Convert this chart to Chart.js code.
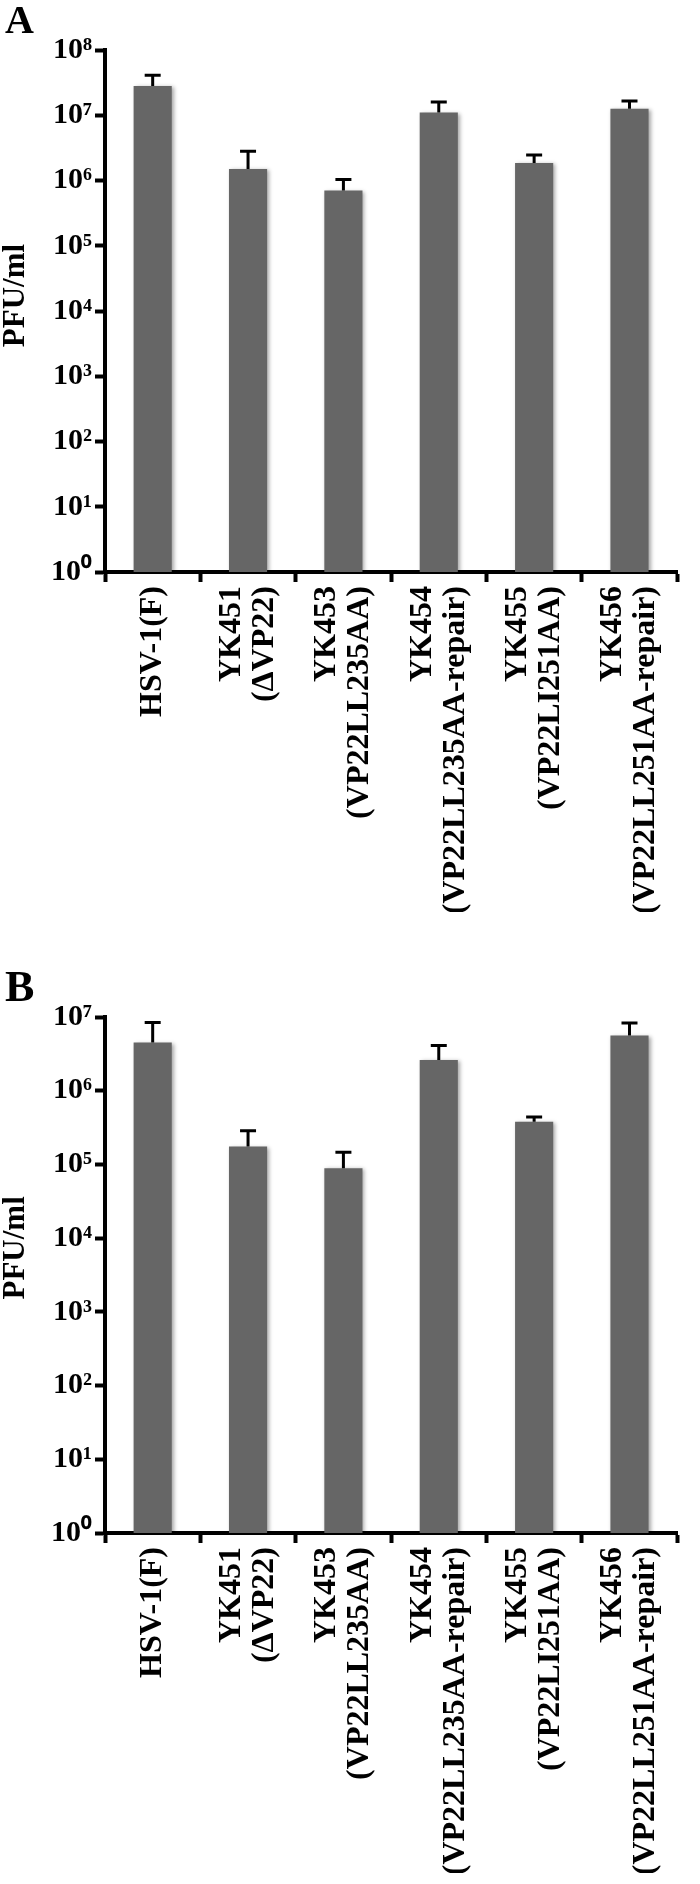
<!DOCTYPE html>
<html>
<head>
<meta charset="utf-8">
<script src="https://cdn.jsdelivr.net/npm/chart.js@4.4.0/dist/chart.umd.min.js"></script>
<style>
  html, body { margin: 0; padding: 0; background: #fff; }
  #wrap { position: relative; width: 700px; height: 1884px; }
  canvas { position: absolute; left: 0; }
  #cA { top: 0; }
  #cB { top: 940px; }
  .panel { position: absolute; font-family: 'Liberation Serif', 'Times New Roman', serif; font-weight: bold; line-height: 1; color: #000; }
</style>
</head>
<body>
<div id="wrap">
  <canvas id="cA" width="700" height="935"></canvas>
  <canvas id="cB" width="700" height="944"></canvas>
  <div class="panel" style="left:5px;top:0;font-size:40px">A</div>
  <div class="panel" style="left:5px;top:965px;font-size:44px">B</div>
</div>
<script>
// ウイルス力価（PFU/ml）A / B
const categories = [
  ["HSV-1(F)"],
  ["YK451", "(ΔVP22)"],
  ["YK453", "(VP22LL235AA)"],
  ["YK454", "(VP22LL235AA-repair)"],
  ["YK455", "(VP22LI251AA)"],
  ["YK456", "(VP22LL251AA-repair)"]
];

// 平均値と SD（上側のみ）
const titersA = [2.8e7, 1.5e6, 7.0e5, 1.1e7, 1.85e6, 1.26e7];
const sdA     = [1.3e7, 1.3e6, 3.4e5, 5.0e6, 6.0e5, 3.9e6];
const titersB = [4.5e6, 1.75e5, 8.9e4, 2.6e6, 3.8e5, 5.6e6];
const sdB     = [3.9e6, 1.12e5, 5.7e4, 1.5e6, 6.0e4, 2.7e6];

const yTicksA = [1, 1e1, 1e2, 1e3, 1e4, 1e5, 1e6, 1e7, 1e8];
const yTickLabelsA = ["10⁰", "10¹", "10²", "10³", "10⁴", "10⁵", "10⁶", "10⁷", "10⁸"];
const yTicksB = [1, 1e1, 1e2, 1e3, 1e4, 1e5, 1e6, 1e7];
const yTickLabelsB = ["10⁰", "10¹", "10²", "10³", "10⁴", "10⁵", "10⁶", "10⁷"];

const FONT = "'Liberation Serif', 'Times New Roman', serif";

// バーの影 + エラーバー（上だけ）
const errorBars = {
  id: "errorBars",
  beforeDatasetsDraw(chart) {
    const ctx = chart.ctx;
    ctx.save();
    ctx.shadowColor = "rgba(0,0,0,0.35)";
    ctx.shadowBlur = 4;
    ctx.shadowOffsetX = 2;
    ctx.shadowOffsetY = 1;
  },
  afterDatasetsDraw(chart) {
    const ctx = chart.ctx;
    ctx.restore();
    const ds = chart.data.datasets[0];
    const y = chart.scales.y;
    chart.getDatasetMeta(0).data.forEach((bar, i) => {
      const top = y.getPixelForValue(ds.data[i] + ds.errs[i]);
      ctx.save();
      ctx.strokeStyle = "#000";
      ctx.lineWidth = 3;
      ctx.beginPath();
      ctx.moveTo(bar.x, bar.y);
      ctx.lineTo(bar.x, top);
      ctx.moveTo(bar.x - 8, top);
      ctx.lineTo(bar.x + 8, top);
      ctx.stroke();
      ctx.restore();
    });
  }
};

// 2行ラベルを目盛りの中心に寄せる
const centerLines = {
  id: "centerLines",
  beforeDraw(chart) {
    chart.scales.x.getLabelItems().forEach(item => {
      if (Array.isArray(item.label) && item.label.length > 1 && !item._moved) {
        item.options.translation[0] -= (item.label.length - 1) * item.font.lineHeight / 2;
        item._moved = true;
      }
    });
  }
};

// titleText: 先頭の空白で少し上に寄せる（元図は軸中央より上）
function makeChart(id, values, errs, yTicks, yLabels, titleText, padTop, padBottom) {
  return new Chart(document.getElementById(id), {
    type: "bar",
    data: {
      labels: categories,
      datasets: [{
        data: values,
        errs: errs,
        backgroundColor: "#666666",
        borderWidth: 0,
        barPercentage: 0.4,
        categoryPercentage: 1.0
      }]
    },
    options: {
      responsive: false,
      animation: false,
      devicePixelRatio: 1,
      layout: { padding: { top: padTop, bottom: padBottom, left: 0, right: 7 } },
      plugins: { legend: { display: false }, tooltip: { enabled: false } },
      scales: {
        x: {
          offset: true,
          grid: { display: true, offset: true, drawOnChartArea: false, drawTicks: true, tickLength: 10, tickWidth: 4, tickColor: "#000" },
          border: { display: true, color: "#000", width: 4 },
          ticks: {
            autoSkip: false, maxRotation: 90, minRotation: 90, padding: 4, color: "#000",
            font: { family: FONT, size: 32, weight: "bold", lineHeight: 1.03 }
          },
          afterFit: s => { s.height = 340; }
        },
        y: {
          type: "logarithmic",
          min: yTicks[0],
          max: yTicks[yTicks.length - 1],
          afterBuildTicks: s => { s.ticks = yTicks.map(v => ({ value: v })); },
          grid: { display: true, drawOnChartArea: false, drawTicks: true, tickLength: 10, tickWidth: 4, tickColor: "#000" },
          border: { display: true, color: "#000", width: 4 },
          ticks: {
            padding: 3, color: "#000",
            font: { family: FONT, size: 30, weight: "bold" },
            callback: (v, i) => yLabels[i]
          },
          title: {
            display: true, text: titleText, color: "#000", padding: 0,
            font: { family: FONT, size: 31, weight: "bold", lineHeight: 1 }
          },
          afterFit: s => { s.width = 105; }
        }
      }
    },
    plugins: [errorBars, centerLines]
  });
}

makeChart("cA", titersA, sdA, yTicksA, yTickLabelsA, "    PFU/ml", 50, 23);
makeChart("cB", titersB, sdB, yTicksB, yTickLabelsB, "       PFU/ml", 77, 11);
</script>
</body>
</html>
